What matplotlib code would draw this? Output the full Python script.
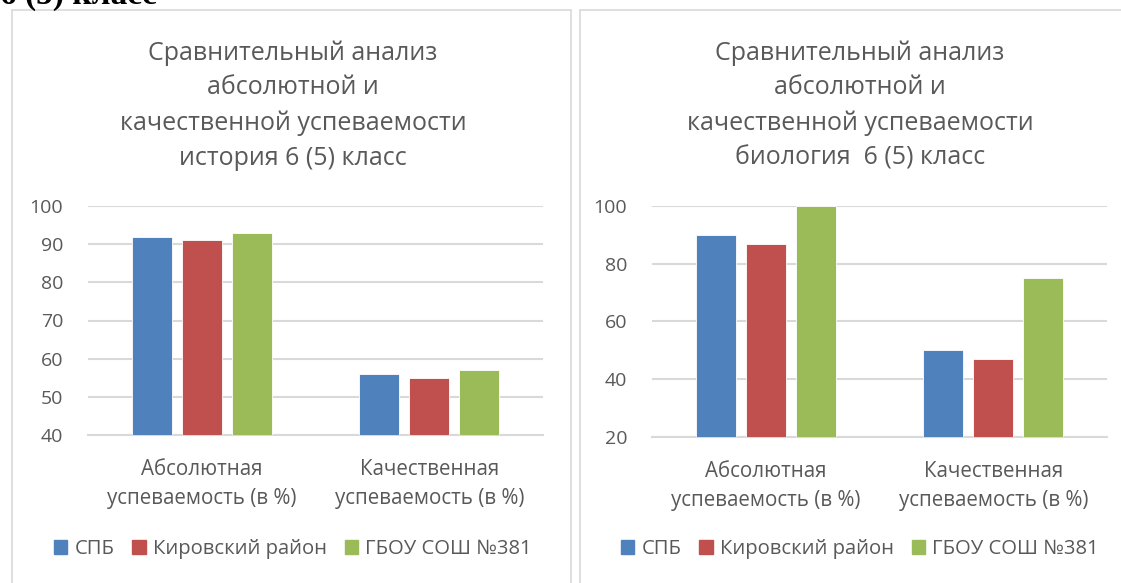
import numpy as np
import matplotlib.pyplot as plt
from matplotlib.patches import Rectangle, Patch

plt.rcParams['font.family'] = ['Open Sans', 'DejaVu Sans']

W, H = 1121, 583

categories = ['Абсолютная\nуспеваемость (в %)', 'Качественная\nуспеваемость (в %)']
series = ['СПБ', 'Кировский район', 'ГБОУ СОШ №381']
colors = ['#4F81BD', '#C0504D', '#9BBB59']

hist_title = 'Сравнительный анализ\nабсолютной и\nкачественной успеваемости\nистория 6 (5) класс'
hist_spb = [92, 56]
hist_kir = [91, 55]
hist_school = [93, 57]
hist_ticks = [40, 50, 60, 70, 80, 90, 100]

bio_title = 'Сравнительный анализ\nабсолютной и\nкачественной успеваемости\nбиология  6 (5) класс'
bio_spb = [90, 50]
bio_kir = [87, 47]
bio_school = [100, 75]
bio_ticks = [20, 40, 60, 80, 100]

txt = '#595959'
grid = '#d9d9d9'

fig = plt.figure(figsize=(W / 100, H / 100), dpi=100)


def px_axes(x0, y0, x1, y1):
    # pixel box (top-left origin) -> figure axes
    return fig.add_axes([x0 / W, (H - y1) / H, (x1 - x0) / W, (y1 - y0) / H])


# chart frames
for fx0, fx1 in [(12, 571), (580, 1135)]:
    fig.patches.append(Rectangle((fx0 / W, -0.05), (fx1 - fx0) / W, (H - 10) / H + 0.05,
                                 transform=fig.transFigure, fill=False,
                                 edgecolor=grid, lw=1.2))

# cut-off heading above the charts
fig.text(0, 1 - 4 / H, '6 (5) класс', family='Liberation Serif', weight='bold',
         fontsize=24, color='black', ha='left', va='baseline')


def draw(box, title, tcx, vals, ticks):
    ax = px_axes(*box)
    x = np.arange(len(categories))
    w = 40 / 227.5
    step = 50 / 227.5
    for i, v in enumerate(vals):
        ax.bar(x + (i - 1) * step, v, w, color=colors[i], edgecolor='white',
               linewidth=0.6, zorder=3, label=series[i])
    ax.set_xlim(-0.5, 1.5)
    ax.set_ylim(ticks[0], ticks[-1])
    ax.set_yticks(ticks)
    ax.tick_params(axis='y', length=0, pad=18, labelsize=14, labelcolor=txt)
    ax.set_xticks([])
    for s in ['top', 'right', 'left']:
        ax.spines[s].set_visible(False)
    ax.spines['bottom'].set_color(grid)
    ax.spines['bottom'].set_linewidth(1.5)
    ax.yaxis.grid(True, color=grid, lw=1.5, zorder=0)
    ax.set_axisbelow(True)
    for i, c in enumerate(categories):
        ax.text(x[i], -0.105, c, transform=ax.get_xaxis_transform(), ha='center',
                va='top', fontsize=14.8, color=txt, linespacing=1.5)
    fig.text(tcx / W, 1 - 40 / H, title, ha='center', va='top', fontsize=18,
             color=txt, linespacing=1.52)
    fig.legend(handles=[Patch(color=c) for c in colors], labels=series, ncol=3,
               loc='center', bbox_to_anchor=(tcx / W, 1 - 549 / H), frameon=False,
               fontsize=14.6, labelcolor=txt, handlelength=0.65, handleheight=0.65,
               handletextpad=0.35, columnspacing=0.9)
    return ax


draw((88, 206, 543, 435), hist_title, 293,
     [hist_spb, hist_kir, hist_school], hist_ticks)
draw((652, 206, 1107, 437), bio_title, 860,
     [bio_spb, bio_kir, bio_school], bio_ticks)

fig.savefig('out.png', dpi=100, facecolor='white')
